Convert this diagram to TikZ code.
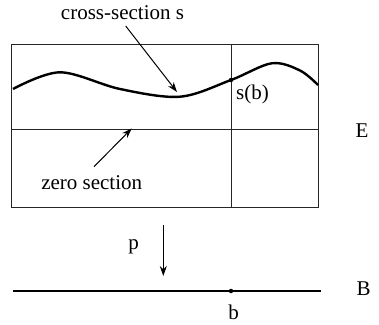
\documentclass[tikz,border=0pt]{standalone}
\usepackage{fontspec}
\setmainfont{Liberation Serif}
\newfontfamily\timesfam{Liberation Serif}
\usetikzlibrary{arrows.meta}
\begin{document}
\begin{tikzpicture}[x=1pt,y=-1pt,
  thin line/.style={line width=1pt,draw=black!85},
  thick curve/.style={line width=2.4pt},
  lbl/.style={inner sep=0pt,font=\timesfam\fontsize{21}{25}\selectfont},
  pointer/.style={line width=1pt,-{Stealth[length=10pt,width=7pt]}},
  dotmark/.style={circle,fill=black,inner sep=0pt,minimum size=4.5pt}]
\useasboundingbox (0,0) rectangle (379,324);
% total space E
\draw[thin line] (11.7,44.3) rectangle (318,207.3);
\coordinate (zL) at (11.7,129);
\coordinate (zR) at (318,129);
\draw[thin line] (zL) -- (zR);
\coordinate (fT) at (231,44.3);
\coordinate (fB) at (231,207.3);
\draw[thin line] (fT) -- (fB);
% cross-section curve
\draw[thick curve] plot[smooth,tension=0.55] coordinates
  {(13,89) (60,72.3) (120,89) (180,96.7) (231,80) (271.7,63.3) (300,70.5) (318,85)};
\node[dotmark] (sbpt) at (231,80) {};
% labels
\node[lbl] (cs) at (122.5,13) {cross-section s};
\node[lbl] (sb) at (252.5,94.5) {s(b)};
\node[lbl] (E) at (362,131) {E};
\node[lbl] (zs) at (91.7,182.5) {zero section};
\node[lbl] (p) at (133.5,247) {p};
\node[lbl] (B) at (363.5,288.5) {B};
\node[lbl] (b) at (233.5,312.5) {b};
% pointers
\coordinate (csTail) at (125.7,26);
\coordinate (csHead) at (177,92);
\draw[pointer] (csTail) -- (csHead);
\coordinate (zsTail) at (94,166.7);
\coordinate (zsHead) at (131.7,128.5);
\draw[pointer] (zsTail) -- (zsHead);
% projection
\coordinate (pTop) at (163.3,225);
\coordinate (pBot) at (163.3,276);
\draw[pointer] (pTop) -- (pBot);
% base B
\coordinate (bL) at (13.3,291);
\coordinate (bR) at (320.7,291);
\draw[line width=1.2pt] (bL) -- (bR);
\node[dotmark] (bpt) at (231,291) {};
\end{tikzpicture}
\end{document}
